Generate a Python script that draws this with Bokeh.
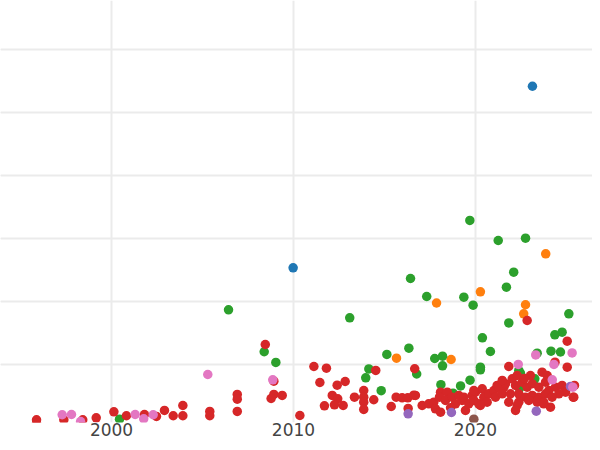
from bokeh.plotting import figure
from bokeh.models import FixedTicker, Grid, Range1d
from bokeh.embed import file_html
from bokeh.resources import INLINE

# ---- data (year, value) per category ----
blue_x = [2023.13, 2009.98]
blue_y = [54.17, 25.35]

orange_x = [2023.86, 2020.27, 2022.75, 2022.65, 2017.86, 2015.66, 2018.66]
orange_y = [27.57, 21.54, 19.48, 18.05, 19.76, 11.00, 10.79]

green_x = [2019.69, 2021.25, 2022.75, 2022.10, 2021.70, 2019.36, 2019.87, 2017.32, 2016.43,
           2025.13, 2021.83, 2020.38, 2024.76, 2024.36, 2020.82, 2023.39, 2024.15, 2024.67,
           2020.27, 2020.27, 2019.70, 2006.43, 2008.39, 2009.03, 2013.09, 2015.13, 2016.34,
           2017.76, 2018.19, 2018.19, 2014.14, 2013.97, 2016.77, 2014.82, 2018.10, 2019.18,
           2018.77, 2000.44, 2022.47, 2023.26, 2022.38, 2022.42]
green_y = [32.86, 29.68, 30.05, 24.65, 22.27, 20.68, 19.41, 20.79, 23.65,
           18.05, 16.59, 14.24, 15.13, 14.71, 12.06, 11.79, 12.11, 11.98,
           9.57, 9.16, 7.51, 18.68, 12.02, 10.32, 17.41, 11.59, 12.59,
           10.95, 11.32, 9.79, 9.29, 7.89, 8.49, 5.84, 6.79, 6.59,
           5.44, 1.32, 8.62, 7.73, 9.05, 6.19]

red_x = [1995.88, 1995.88, 1997.38, 1998.42, 1999.16, 2000.13, 2000.82, 2001.81, 2002.47,
         2002.91, 2003.39, 2003.92, 2003.92, 2005.40, 2005.40, 2006.91, 2006.91, 2006.91,
         2008.45, 2008.92, 2008.92, 2008.77, 2009.38, 2010.35, 2011.12, 2011.81, 2011.45,
         2012.40, 2012.84, 2012.13, 2012.43, 2011.70, 2012.25, 2012.73, 2013.35, 2013.86,
         2013.86, 2013.86, 2013.86, 2014.41, 2014.52, 2015.37, 2015.64, 2015.97, 2016.28,
         2016.61, 2016.30, 2016.66, 2016.70, 2017.07, 2017.43, 2017.71, 2017.80, 2018.08,
         2018.08, 2018.45, 2018.02, 2018.35, 2018.71, 2018.90, 2018.63, 2019.27, 2019.08,
         2019.45, 2019.63, 2019.82, 2020.00, 2019.91, 2020.18, 2020.37, 2020.46, 2020.73,
         2021.01, 2021.10, 2021.19, 2020.64, 2020.27, 2019.36, 2019.91, 2021.56,
         2021.83, 2024.37, 2025.04, 2023.66, 2022.84, 2025.04,
         2021.28, 2021.65, 2022.02, 2022.20, 2022.57, 2022.84, 2023.12, 2023.48, 2023.85,
         2024.03, 2024.40, 2024.76, 2024.95, 2024.58, 2021.47, 2021.92, 2022.38, 2022.75,
         2023.12, 2023.48, 2023.85, 2024.21, 2021.83, 2022.38, 2022.93, 2023.39, 2023.75,
         2024.12, 2022.29, 2022.20, 2025.40, 2021.47, 2025.44, 2022.29, 2023.02, 2023.94,
         2022.69, 2023.42, 2023.75, 2025.37]
red_y = [1.22, 0.68, 1.22, 1.22, 1.54, 2.49, 1.86, 2.06, 1.75,
         2.70, 1.86, 3.49, 1.86, 2.54, 1.86, 5.24, 4.49, 2.54,
         13.17, 7.35, 5.24, 4.60, 5.08, 1.90, 9.68, 9.41, 7.14,
         6.71, 7.30, 5.08, 4.56, 3.44, 3.60, 3.49, 4.81, 5.87,
         4.81, 4.02, 2.86, 4.40, 9.05, 3.33, 4.81, 4.71, 4.71,
         5.13, 3.02, 9.32, 5.08, 3.49, 3.76, 4.02, 2.97, 2.43,
         5.60, 5.60, 4.81, 4.29, 4.81, 3.76, 3.13, 4.29, 5.08,
         2.70, 3.76, 5.08, 5.60, 4.29, 3.76, 6.14, 4.81, 5.35,
         5.87, 4.81, 6.67, 4.02, 3.49, 4.81, 5.87, 6.40,
         9.68, 10.37, 9.57, 8.78, 16.98, 13.70,
         6.40, 6.94, 7.73, 6.67, 7.19, 6.40, 6.94, 6.40, 7.19,
         5.87, 6.40, 6.67, 5.60, 5.35, 5.35, 5.35, 5.35, 4.81,
         5.08, 4.81, 5.35, 4.81, 4.02, 4.02, 4.29, 4.02, 3.76,
         3.22, 3.49, 2.70, 4.81, 7.46, 6.67, 8.25, 8.25, 8.25,
         7.78, 4.29, 4.02, 4.81]

purple_x = [2016.30, 2018.68, 2023.34, 2025.22]
purple_y = [2.17, 2.38, 2.59, 6.51]

brown_x = [2019.91]
brown_y = [1.32]

pink_x = [1997.29, 1997.80, 1998.30, 2001.30, 2001.77, 2002.29, 2005.29, 2008.86,
          2022.35, 2024.31, 2023.31, 2025.31, 2024.22, 2025.35]
pink_y = [2.02, 2.06, 0.95, 2.06, 1.38, 2.02, 8.41, 7.57,
          10.00, 10.00, 11.51, 11.83, 7.57, 6.40]

x_ticks = [2000, 2010, 2020]
y_grid = [10, 20, 30, 40, 50, 60]

series = [
    (blue_x, blue_y, "#1f77b4"),
    (orange_x, orange_y, "#ff7f0e"),
    (green_x, green_y, "#2ca02c"),
    (red_x, red_y, "#d62728"),
    (purple_x, purple_y, "#9467bd"),
    (brown_x, brown_y, "#8c564b"),
    (pink_x, pink_y, "#e377c2"),
]

p = figure(width=592, height=442, output_backend="svg", toolbar_location=None,
           x_range=Range1d(1993.90, 2026.43), y_range=Range1d(0.79, 67.78),
           y_axis_location=None, min_border_left=0, min_border_right=0,
           min_border_top=0, min_border_bottom=20)
p.outline_line_color = None
p.background_fill_color = "white"
p.border_fill_color = "white"

p.xgrid.ticker = FixedTicker(ticks=x_ticks)
p.xgrid.grid_line_color = "#ebebeb"
p.xgrid.grid_line_width = 2
p.add_layout(Grid(dimension=1, ticker=FixedTicker(ticks=y_grid),
                  grid_line_color="#ebebeb", grid_line_width=2))

ax = p.xaxis[0]
ax.ticker = FixedTicker(ticks=x_ticks)
ax.axis_line_color = None
ax.major_tick_line_color = None
ax.minor_tick_line_color = None
ax.major_tick_out = 0
ax.major_tick_in = 0
ax.major_label_text_font = "DejaVu Sans"
ax.major_label_text_font_size = "17px"
ax.major_label_text_color = "#444444"
ax.major_label_standoff = 0

for xs, ys, c in series:
    p.scatter(xs, ys, size=9.5, fill_color=c, line_color=None)

open("out.html", "w").write(file_html(p, INLINE))
